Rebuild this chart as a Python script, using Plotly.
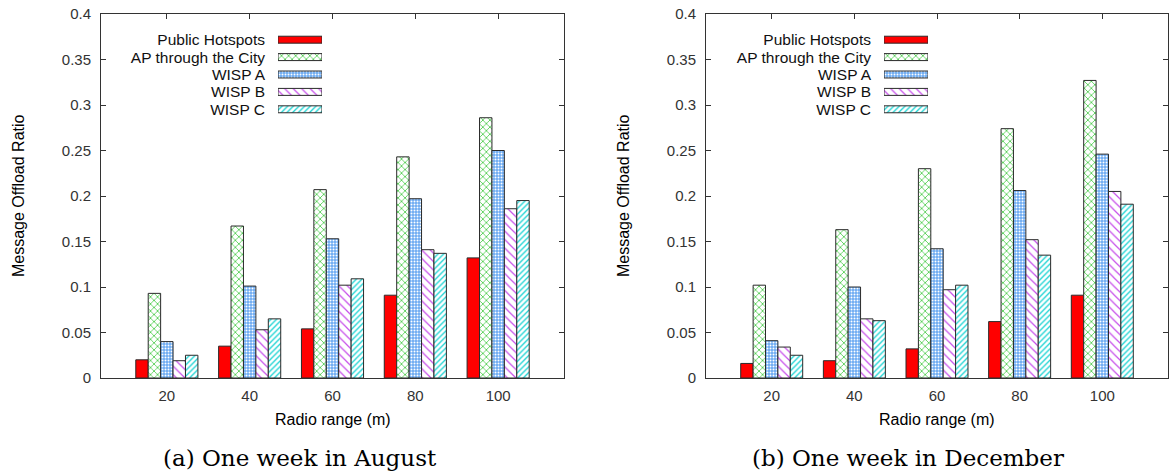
import plotly.graph_objects as go

W, H = 1170, 476

# ---------------- data ----------------
categories = ["20", "40", "60", "80", "100"]
series_names = ["Public Hotspots", "AP through the City", "WISP A", "WISP B", "WISP C"]

aug_public = [0.020, 0.035, 0.054, 0.091, 0.132]
aug_ap = [0.093, 0.167, 0.207, 0.243, 0.286]
aug_wisp_a = [0.040, 0.101, 0.153, 0.197, 0.250]
aug_wisp_b = [0.019, 0.053, 0.102, 0.141, 0.186]
aug_wisp_c = [0.025, 0.065, 0.109, 0.137, 0.195]

dec_public = [0.016, 0.019, 0.032, 0.062, 0.091]
dec_ap = [0.102, 0.163, 0.230, 0.274, 0.327]
dec_wisp_a = [0.041, 0.100, 0.142, 0.206, 0.246]
dec_wisp_b = [0.034, 0.065, 0.097, 0.152, 0.205]
dec_wisp_c = [0.025, 0.063, 0.102, 0.135, 0.191]

y_ticks = [0, 0.05, 0.1, 0.15, 0.2, 0.25, 0.3, 0.35, 0.4]
y_label = "Message Offload Ratio"
x_label = "Radio range (m)"
captions = ["(a) One week in August", "(b) One week in December"]
legend_swatch_len = 1

# ---------------- styles ----------------
OUT = "#2a2a2a"
colors = ["#ff0000", "#ffffff", "#6aaaf2", "#ffffff", "#ffffff"]
p_shapes = ["", "x", ".", "\\", "/"]
p_fg = ["#ff0000", "#2ec42e", "#ffffff", "#c64cea", "#14d2d2"]
p_bg = ["#ff0000", "#ffffff", "#6aaaf2", "#ffffff", "#ffffff"]
p_size = [8, 5, 3, 6, 4]
p_sol = [0.3, 0.26, 0.35, 0.2, 0.32]

SANS = "Liberation Sans, Arial, sans-serif"
SERIF = "DejaVu Serif, serif"


def px(x):
    return x / W


def py(y):
    return 1 - y / H


def marker_for(i):
    return dict(
        color=colors[i],
        line=dict(color=OUT, width=1),
        pattern=dict(shape=p_shapes[i], fgcolor=p_fg[i], bgcolor=p_bg[i],
                     size=p_size[i], solidity=p_sol[i], fillmode="replace"),
    )


fig = go.Figure()

panels = [
    ("x", "y", [aug_public, aug_ap, aug_wisp_a, aug_wisp_b, aug_wisp_c]),
    ("x2", "y2", [dec_public, dec_ap, dec_wisp_a, dec_wisp_b, dec_wisp_c]),
]

for xa, ya, series in panels:
    for i, vals in enumerate(series):
        fig.add_trace(go.Bar(
            x=categories, y=vals, name=series_names[i], xaxis=xa, yaxis=ya,
            showlegend=False, marker=marker_for(i),
        ))

# custom gnuplot-style key (text right-aligned left of swatch)
for xa, ya in [("x3", "y3"), ("x4", "y4")]:
    for i, nm in enumerate(series_names):
        fig.add_trace(go.Bar(
            x=[legend_swatch_len], y=[nm], orientation="h", xaxis=xa, yaxis=ya,
            width=0.4, offsetgroup="key", showlegend=False, hoverinfo="skip",
            marker=marker_for(i),
        ))

plot_y = [py(378), py(14)]
left_x = [px(101), px(564)]
right_x = [px(706), px(1168)]

xcommon = dict(
    type="category", categoryorder="array", categoryarray=categories,
    range=[-0.795, 4.795], showline=True, linecolor="#333", linewidth=1,
    mirror="ticks", ticks="inside", ticklen=5, tickcolor="#333",
    showgrid=False, zeroline=False, layer="below traces",
    tickfont=dict(family=SANS, size=15, color="#333"), ticklabelstandoff=4,
    automargin=False,
)
ycommon = dict(
    range=[0, 0.4], tickvals=y_ticks, showline=True, linecolor="#333", linewidth=1,
    mirror="ticks", ticks="inside", ticklen=5, tickcolor="#333", showgrid=False,
    zeroline=False, tickfont=dict(family=SANS, size=15, color="#333"),
    ticklabelstandoff=6, automargin=False,
)
legx = dict(range=[0, 1], visible=False, fixedrange=True)
legy = dict(
    type="category", categoryorder="array", categoryarray=series_names,
    tickmode="array", tickvals=series_names, ticktext=series_names,
    autorange="reversed", showline=False, ticks="", showgrid=False, zeroline=False,
    tickfont=dict(family=SANS, size=15.5, color="#111"), ticklabelstandoff=12,
    automargin=False,
)

fig.update_layout(
    width=W, height=H,
    margin=dict(l=0, r=0, t=0, b=0),
    paper_bgcolor="white", plot_bgcolor="rgba(0,0,0,0)",
    barmode="group", bargap=0.25, bargroupgap=0,
    xaxis=dict(domain=left_x, anchor="y", **xcommon),
    yaxis=dict(domain=plot_y, anchor="x", **ycommon),
    xaxis2=dict(domain=right_x, anchor="y2", **xcommon),
    yaxis2=dict(domain=plot_y, anchor="x2", **ycommon),
    xaxis3=dict(domain=[px(278), px(322)], anchor="y3", **legx),
    yaxis3=dict(domain=[py(118), py(31)], anchor="x3", **legy),
    xaxis4=dict(domain=[px(884), px(928)], anchor="y4", **legx),
    yaxis4=dict(domain=[py(118), py(31)], anchor="x4", **legy),
    showlegend=False,
)

annos = []
for cx, lx in [(332.5, 18), (937, 623)]:
    annos.append(dict(text=x_label, x=px(cx), y=py(419), xref="paper", yref="paper",
                      showarrow=False, xanchor="center", yanchor="middle",
                      font=dict(family=SANS, size=16, color="#000")))
    annos.append(dict(text=y_label, x=px(lx), y=py(196), xref="paper", yref="paper",
                      showarrow=False, xanchor="center", yanchor="middle", textangle=-90,
                      font=dict(family=SANS, size=16, color="#000")))
for cap, capx in zip(captions, [300, 908]):
    annos.append(dict(text=cap, x=px(capx), y=py(458), xref="paper", yref="paper",
                      showarrow=False, xanchor="center", yanchor="middle",
                      font=dict(family=SERIF, size=23, color="#000")))
fig.update_layout(annotations=annos)

fig.write_html(
    "out.html",
    config={"displayModeBar": False},
    post_script="document.body.style.margin='0';document.body.style.overflow='hidden';",
)
